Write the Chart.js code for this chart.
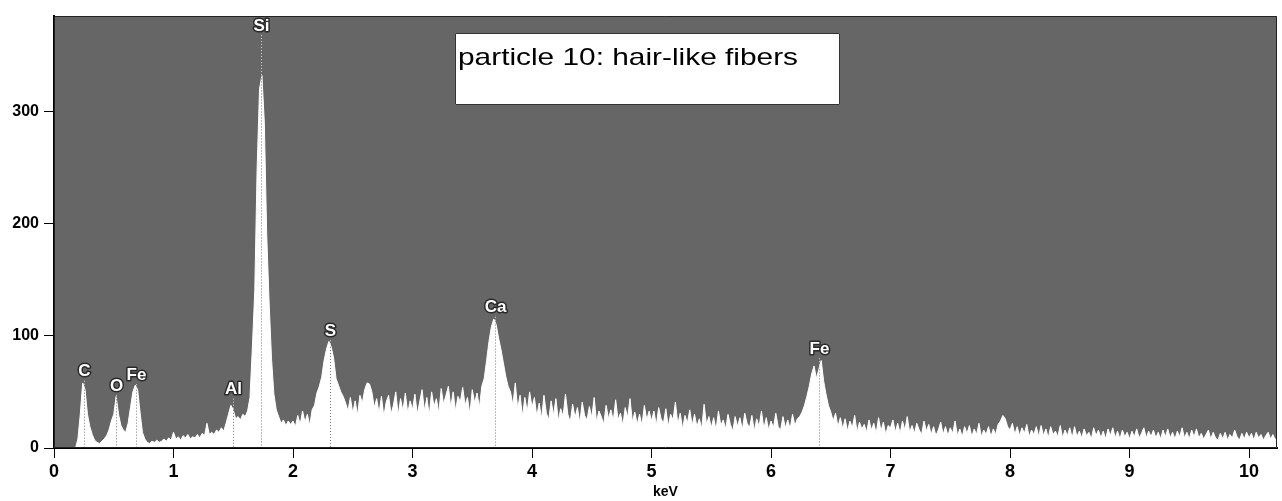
<!DOCTYPE html>
<html>
<head>
<meta charset="utf-8">
<title>EDS spectrum – particle 10</title>
<script src="https://cdn.jsdelivr.net/npm/chart.js@4.4.0/dist/chart.umd.min.js"></script>
<style>
  html, body { margin: 0; padding: 0; background: #ffffff; }
  #wrap { width: 1282px; height: 501px; }
</style>
</head>
<body>
<div id="wrap"><canvas id="eds" width="1282" height="501"></canvas></div>
<script>
// Energy width of one spectrum channel (keV)
const CHANNEL_KEV = 0.02;

// Counts per channel, one row per keV (0.00 … 0.98, 1.00 … 1.98, …)
const counts = [
  0,0,0,0,0,0,0,0,0,0, 8,30,58,52,30,19,12,7,5,4, 6,8,11,16,24,30,46,30,20,16, 14,22,36,50,56,52,32,14,8,5, 4,6,5,7,5,6,8,6,9,7,
  14,8,10,7,11,9,12,8,10,9, 12,9,13,11,22,12,14,12,16,14, 18,15,22,30,38,34,26,28,25,30, 28,33,45,90,140,250,320,332,290,190, 130,80,48,34,28,22,25,20,24,21,
  24,19,29,21,33,23,30,20,34,38, 49,55,63,78,88,95,90,80,62,56, 50,46,40,33,45,31,42,29,47,40, 52,58,57,50,36,44,31,46,28,41, 47,30,38,50,29,44,33,49,31,42,
  34,48,30,41,52,33,45,29,50,37, 44,31,53,39,47,55,36,50,33,46, 41,54,38,45,30,52,40,49,36,55, 62,78,95,108,115,110,98,88,76,64, 55,50,38,58,35,47,28,45,32,50,
  36,45,28,40,26,47,31,25,42,29, 44,24,35,28,48,30,23,39,27,36, 22,41,29,25,37,27,45,23,33,28, 21,38,26,34,24,43,25,31,20,36, 27,44,23,32,21,30,20,38,25,33,
  24,33,20,36,26,22,35,19,30,25, 41,21,31,17,29,22,34,20,30,19, 26,17,39,21,28,18,27,16,33,20, 25,17,30,21,15,28,19,27,16,31, 22,18,29,15,26,19,33,17,27,16,
  24,18,31,19,16,28,18,25,17,30, 20,26,28,32,38,46,55,66,73,62, 70,78,60,48,38,32,24,31,19,27, 17,26,15,24,18,29,14,23,17,21, 14,25,16,22,13,27,15,23,12,20,
  18,25,14,22,13,24,16,28,14,20, 13,22,16,12,24,15,21,12,19,11, 16,23,12,19,11,18,13,24,11,17, 10,19,13,20,10,17,12,22,10,16, 12,19,10,17,12,21,24,29,26,19,
  16,22,12,19,11,18,13,21,10,16, 12,19,10,20,11,17,9,19,12,15, 10,20,9,16,11,18,9,19,10,15, 9,17,11,14,8,18,11,16,9,15, 8,17,11,18,9,15,8,16,10,14,
  8,15,10,17,9,13,18,9,15,10, 16,9,14,8,16,10,17,9,14,8, 15,10,18,9,14,8,16,10,17,9, 13,8,12,16,8,14,9,7,13,8, 14,7,12,9,16,10,7,13,8,14,
  9,13,7,14,9,12,7,11,14,8,12,7,11
];

// Identified lines: element, marker energy (keV), height of the label (counts)
const peakNames    = ['C', 'O', 'Fe', 'Al', 'Si', 'S', 'Ca', 'Fe'];
const peakEnergies = [0.25, 0.52, 0.69, 1.50, 1.73, 2.31, 3.69, 6.40];
const peakLabelAt  = [68, 55, 65, 52, 376, 104, 125, 88];

// Axis ranges and tick spacing
const xRange = [0, 10.234];
const yRange = [0, 385];
const xStep = 1;
const yStep = 100;

const titleText = 'particle 10: hair-like fibers';
const xTitle = 'keV';

const SANS = "'Liberation Sans', Arial, sans-serif";

const points = counts.map((c, i) => ({ x: +(i * CHANNEL_KEV).toFixed(2), y: c }));

const spectrumDecor = {
  id: 'spectrumDecor',
  beforeDraw(chart) {
    const { ctx, chartArea: a } = chart;
    ctx.save();
    ctx.fillStyle = '#666666';
    ctx.fillRect(a.left, a.top, a.right - a.left, a.bottom - a.top);
    ctx.restore();
  },
  afterDatasetsDraw(chart) {
    const { ctx, chartArea: a, scales } = chart;
    const xs = scales.x, ys = scales.y;
    ctx.save();

    // element markers: dotted line from label down to the baseline, then the label
    peakNames.forEach((name, i) => {
      const px = Math.round(xs.getPixelForValue(peakEnergies[i])) + 0.5;
      const ly = ys.getPixelForValue(peakLabelAt[i]);
      const top = ly + 9;
      const specVal = counts[Math.round(peakEnergies[i] / CHANNEL_KEV)];
      const sy = Math.max(top, ys.getPixelForValue(specVal));
      ctx.lineWidth = 1;
      ctx.setLineDash([1, 2]);
      ctx.strokeStyle = '#d8d8d8';
      ctx.beginPath(); ctx.moveTo(px, top); ctx.lineTo(px, sy); ctx.stroke();
      ctx.strokeStyle = '#7a7a7a';
      ctx.beginPath(); ctx.moveTo(px, sy); ctx.lineTo(px, a.bottom); ctx.stroke();
      ctx.setLineDash([]);

      ctx.font = `bold 17px ${SANS}`;
      ctx.textAlign = 'center';
      ctx.textBaseline = 'middle';
      ctx.lineJoin = 'round';
      ctx.lineWidth = 3;
      ctx.strokeStyle = '#2a2a2a';
      ctx.strokeText(name, px, ly);
      ctx.fillStyle = '#ffffff';
      ctx.fillText(name, px, ly);
    });

    // caption box
    const bx = 455, by = 33, bw = 385, bh = 72;
    ctx.fillStyle = '#ffffff';
    ctx.fillRect(bx, by, bw, bh);
    ctx.strokeStyle = '#333333';
    ctx.lineWidth = 1;
    ctx.strokeRect(bx + 0.5, by + 0.5, bw - 1, bh - 1);
    ctx.fillStyle = '#000000';
    ctx.font = `24px ${SANS}`;
    ctx.textAlign = 'left';
    ctx.textBaseline = 'alphabetic';
    const tw = ctx.measureText(titleText).width;
    const sx = 340 / tw;
    ctx.translate(bx + 3, by + 32);
    ctx.scale(sx, 1);
    ctx.fillText(titleText, 0, 0);
    ctx.setTransform(1, 0, 0, 1, 0, 0);

    // frame of the plotting area
    ctx.strokeStyle = '#222222';
    ctx.lineWidth = 1;
    ctx.strokeRect(a.left + 0.5, a.top + 0.5, a.right - a.left - 1, a.bottom - a.top - 1);
    ctx.restore();
  }
};

new Chart(document.getElementById('eds'), {
  type: 'line',
  data: {
    datasets: [{
      data: points,
      borderColor: '#ffffff',
      borderWidth: 1,
      backgroundColor: '#ffffff',
      fill: 'origin',
      pointRadius: 0,
      tension: 0
    }]
  },
  options: {
    responsive: false,
    animation: false,
    devicePixelRatio: 1,
    layout: { padding: { top: 16, right: 5, left: 0, bottom: 0 } },
    plugins: { legend: { display: false }, tooltip: { enabled: false } },
    scales: {
      x: {
        type: 'linear',
        min: xRange[0], max: xRange[1],
        border: { display: true, color: '#000000', width: 2 },
        grid: { display: true, drawOnChartArea: false, drawTicks: true, tickLength: 10, color: '#000000', lineWidth: 1 },
        ticks: {
          stepSize: xStep, includeBounds: false, maxRotation: 0, padding: 3,
          color: '#000000', font: { family: SANS, weight: 'bold', size: 18 }
        },
        title: {
          display: true, text: xTitle, color: '#000000', padding: { top: 0, bottom: 0 },
          font: { family: SANS, weight: 'bold', size: 14 }
        },
        afterFit(scale) { scale.height = 53; }
      },
      y: {
        type: 'linear',
        min: yRange[0], max: yRange[1],
        border: { display: true, color: '#000000', width: 2 },
        grid: { display: true, drawOnChartArea: false, drawTicks: true, tickLength: 10, color: '#000000', lineWidth: 1 },
        ticks: {
          stepSize: yStep, includeBounds: false, padding: 5,
          color: '#000000', font: { family: SANS, weight: 'bold', size: 16 }
        },
        afterFit(scale) { scale.width = 54; }
      }
    }
  },
  plugins: [spectrumDecor]
});
</script>
</body>
</html>
